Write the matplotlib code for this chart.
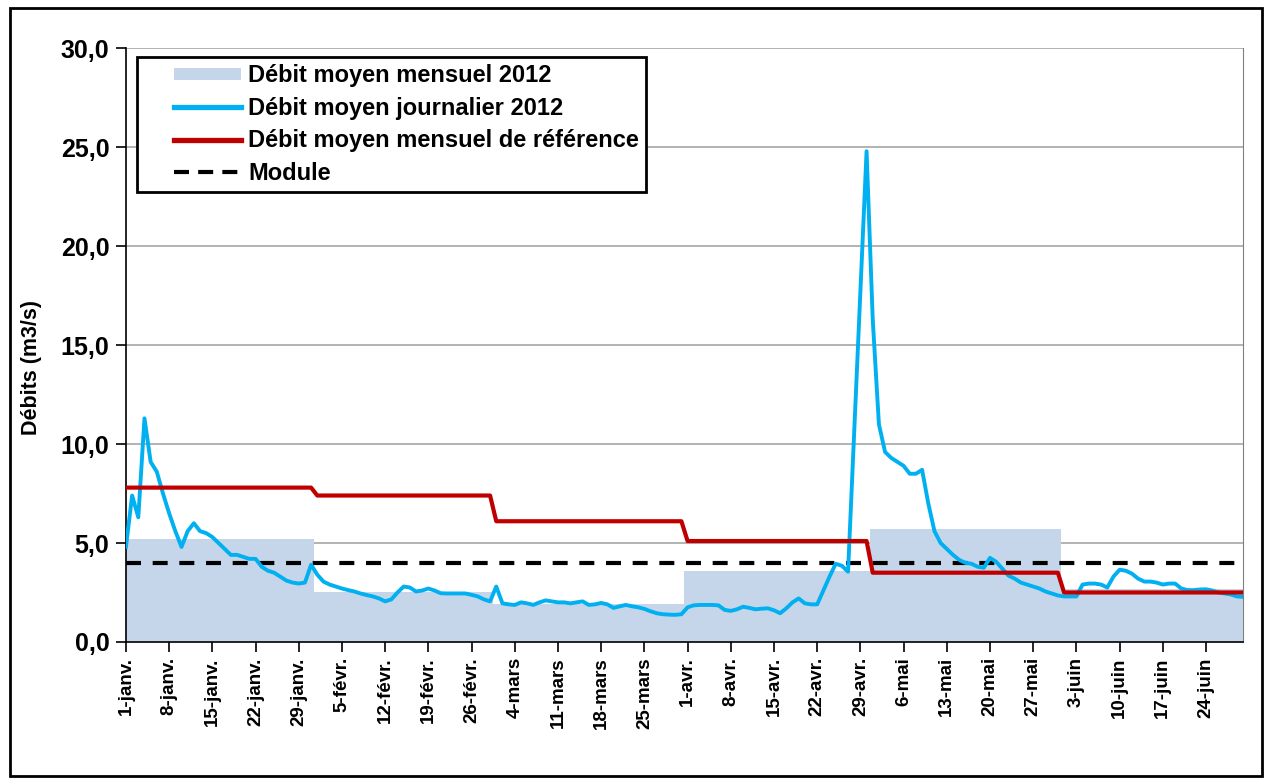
import matplotlib
matplotlib.use("Agg")
import matplotlib.pyplot as plt
from matplotlib.patches import Rectangle, Patch
from matplotlib.lines import Line2D
from matplotlib.legend_handler import HandlerLine2D, HandlerPatch
import numpy as np
import pandas as pd

plt.rcParams["font.family"] = ["Liberation Sans", "DejaVu Sans"]
plt.rcParams["font.weight"] = "bold"

# daily mean flow 2012 (m3/s), one list per month
jan = [4.8, 7.4, 6.3, 11.3, 9.1, 8.6, 7.5, 6.5, 5.6, 4.8, 5.6, 6.0, 5.6, 5.5, 5.3, 5.0,
       4.7, 4.4, 4.4, 4.3, 4.2, 4.2, 3.8, 3.6, 3.5, 3.3, 3.1, 3.0, 2.95, 3.0, 3.9]
feb = [3.4, 3.05, 2.9, 2.8, 2.7, 2.62, 2.55, 2.45, 2.37, 2.3, 2.2, 2.05, 2.15, 2.5, 2.8,
       2.75, 2.55, 2.6, 2.7, 2.6, 2.46, 2.45, 2.45, 2.45, 2.45, 2.38, 2.3, 2.15, 2.05]
mar = [2.8, 1.95, 1.9, 1.87, 2.0, 1.95, 1.87, 2.0, 2.1, 2.05, 2.0, 2.0, 1.95, 2.0, 2.05,
       1.87, 1.9, 1.97, 1.9, 1.72, 1.8, 1.87, 1.8, 1.75, 1.67, 1.55, 1.45, 1.4, 1.38, 1.37, 1.4]
apr = [1.75, 1.85, 1.87, 1.87, 1.87, 1.85, 1.62, 1.57, 1.65, 1.78, 1.72, 1.65, 1.68, 1.7,
       1.6, 1.45, 1.7, 2.0, 2.2, 1.95, 1.9, 1.9, 2.6, 3.3, 3.95, 3.85, 3.55, 10.6, 17.7, 24.8]
may = [16.3, 11.0, 9.6, 9.3, 9.1, 8.9, 8.5, 8.5, 8.7, 7.0, 5.6, 5.0, 4.7, 4.4, 4.15, 4.0,
       3.95, 3.8, 3.75, 4.25, 4.05, 3.7, 3.35, 3.2, 3.0, 2.9, 2.8, 2.7, 2.55, 2.45, 2.35]
jun = [2.3, 2.3, 2.3, 2.9, 2.95, 2.95, 2.9, 2.75, 3.3, 3.65, 3.6, 3.45, 3.2, 3.05, 3.05,
       3.0, 2.9, 2.95, 2.95, 2.7, 2.62, 2.62, 2.65, 2.66, 2.6, 2.5, 2.45, 2.4, 2.3, 2.28]
months_daily = [jan, feb, mar, apr, may, jun]

monthly_2012 = [5.2, 2.5, 1.9, 3.6, 5.7, 2.7]
monthly_ref = [7.8, 7.4, 6.1, 5.1, 3.5, 2.5]
module = 4.0

tick_labels = ["1-janv.", "8-janv.", "15-janv.", "22-janv.", "29-janv.", "5-févr.",
               "12-févr.", "19-févr.", "26-févr.", "4-mars", "11-mars", "18-mars",
               "25-mars", "1-avr.", "8-avr.", "15-avr.", "22-avr.", "29-avr.", "6-mai",
               "13-mai", "20-mai", "27-mai", "3-juin", "10-juin", "17-juin", "24-juin"]

dates = pd.date_range("2012-01-01", "2012-06-30", freq="D")
daily = np.concatenate(months_daily)
lengths = [len(m) for m in months_daily]
mean_daily = np.repeat(monthly_2012, lengths)
ref_daily = np.repeat(monthly_ref, lengths)

fig = plt.figure(figsize=(12.71, 7.80), dpi=100)
ax = fig.add_axes([0.0991, 0.177, 0.8789, 0.761])

ax.fill_between(dates, mean_daily, step="mid", color="#c6d6ea", lw=0, zorder=1)
ax.axhline(module, color="black", lw=3, dashes=(3.6, 2.8), zorder=3)
ax.plot(dates, daily, color="#00b0f0", lw=2.8, zorder=4)
ax.plot(dates, ref_daily, color="#c00000", lw=3.0, zorder=5)

ax.set_xlim(dates[0], dates[-1])
ax.set_ylim(0, 30)
ax.set_yticks(np.arange(0, 31, 5))
ax.set_yticklabels([f"{v:.1f}".replace(".", ",") for v in np.arange(0, 31, 5)])
ax.set_xticks(dates[::7])
ax.set_xticklabels(tick_labels, rotation=90)
ax.tick_params(axis="both", direction="out", length=7, width=1.2)
ax.tick_params(axis="x", labelsize=13.5, pad=4)
ax.tick_params(axis="y", labelsize=18, pad=5)
ax.set_ylabel("Débits (m3/s)", fontsize=15.5, fontweight="bold")
ax.yaxis.set_label_coords(-0.075, 0.462)

ax.grid(axis="y", color="#a6a6a6", lw=1.2, zorder=0)
ax.set_axisbelow(True)
ax.spines["top"].set_visible(False)
ax.spines["right"].set_color("#808080")
ax.spines["left"].set_linewidth(1.2)
ax.spines["bottom"].set_linewidth(1.2)

handles = [
    Patch(facecolor="#c6d6ea", edgecolor="none"),
    Line2D([], [], color="#00b0f0", lw=3.8),
    Line2D([], [], color="#c00000", lw=3.8),
    Line2D([], [], color="black", lw=3, dashes=(3.6, 2.2)),
]
labels = ["Débit moyen mensuel 2012", "Débit moyen journalier 2012",
          "Débit moyen mensuel de référence", "Module"]
leg = ax.legend(handles, labels, loc="upper left", bbox_to_anchor=(0.0098, 0.985),
                borderaxespad=0, fontsize=17, fancybox=False, framealpha=1,
                edgecolor="black", handlelength=4.1, handleheight=0.45,
                labelspacing=0.4, handletextpad=0.3, borderpad=0.3,
                handler_map={Line2D: HandlerLine2D(xpad=1.25),
                             Patch: HandlerPatch(xpad=1.25)})
leg.get_frame().set_linewidth(2)

fig.patches.append(Rectangle((0.008, 0.005), 0.985, 0.985, transform=fig.transFigure,
                             fill=False, edgecolor="black", lw=2))

fig.savefig("out.png", dpi=100)
